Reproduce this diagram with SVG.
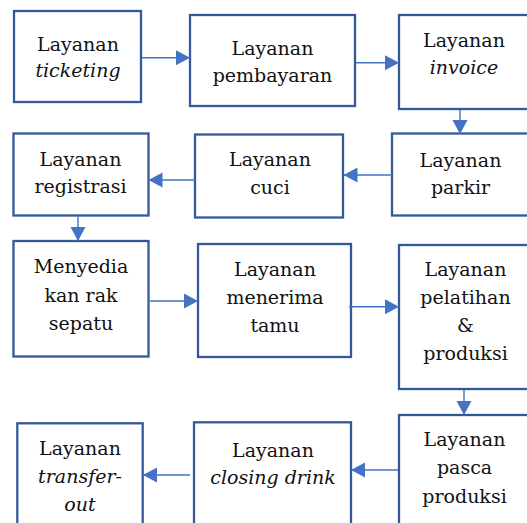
<svg xmlns="http://www.w3.org/2000/svg" width="527" height="523" viewBox="0 0 527 523">
  <style>
    .box { fill: #ffffff; stroke: #34599B; stroke-width: 2.3; }
    .lbl { font-family: "DejaVu Serif", serif; font-size: 19px; fill: #111111; text-anchor: middle; }
    .it { font-style: italic; }
    .conn { stroke: #4472C4; stroke-width: 1.4; fill: none; marker-end: url(#head); }
  </style>
  <defs>
    <marker id="head" markerUnits="userSpaceOnUse" markerWidth="15" markerHeight="16" refX="14" refY="7.5" orient="auto">
      <path d="M0,0 L14,7.5 L0,15 z" fill="#4472C4"/>
    </marker>
  </defs>

  <!-- Row 1 -->
  <g id="ticketing">
    <rect class="box" x="14" y="11" width="127" height="91"/>
    <text class="lbl" x="78" y="51">Layanan</text>
    <text class="lbl it" x="78" y="77">ticketing</text>
  </g>
  <g id="pembayaran">
    <rect class="box" x="190" y="15" width="165" height="91"/>
    <text class="lbl" x="272.5" y="55">Layanan</text>
    <text class="lbl" x="272.5" y="82">pembayaran</text>
  </g>
  <g id="invoice">
    <rect class="box" x="399" y="15" width="131" height="94"/>
    <text class="lbl" x="464" y="47">Layanan</text>
    <text class="lbl it" x="464" y="74">invoice</text>
  </g>

  <!-- Row 2 -->
  <g id="registrasi">
    <rect class="box" x="13.5" y="133.5" width="135" height="82"/>
    <text class="lbl" x="80.5" y="166">Layanan</text>
    <text class="lbl" x="80.5" y="193">registrasi</text>
  </g>
  <g id="cuci">
    <rect class="box" x="195" y="134.5" width="148" height="83"/>
    <text class="lbl" x="270" y="166">Layanan</text>
    <text class="lbl" x="270" y="194">cuci</text>
  </g>
  <g id="parkir">
    <rect class="box" x="392" y="133.5" width="138" height="82"/>
    <text class="lbl" x="460.5" y="166.5">Layanan</text>
    <text class="lbl" x="460.5" y="194">parkir</text>
  </g>

  <!-- Row 3 -->
  <g id="rak-sepatu">
    <rect class="box" x="13.5" y="241" width="135" height="115.5"/>
    <text class="lbl" x="81" y="272.5">Menyedia</text>
    <text class="lbl" x="81" y="301.5">kan rak</text>
    <text class="lbl" x="81" y="330">sepatu</text>
  </g>
  <g id="menerima-tamu">
    <rect class="box" x="198" y="244" width="153" height="113"/>
    <text class="lbl" x="275" y="275.5">Layanan</text>
    <text class="lbl" x="275" y="304">menerima</text>
    <text class="lbl" x="275" y="331.5">tamu</text>
  </g>
  <g id="pelatihan">
    <rect class="box" x="399" y="245" width="131" height="144"/>
    <text class="lbl" x="465.5" y="275.5">Layanan</text>
    <text class="lbl" x="465.5" y="304">pelatihan</text>
    <text class="lbl" x="465.5" y="331.5">&amp;</text>
    <text class="lbl" x="465.5" y="360">produksi</text>
  </g>

  <!-- Row 4 -->
  <g id="transfer-out">
    <rect class="box" x="17.3" y="423.3" width="125.4" height="110"/>
    <text class="lbl" x="80" y="455">Layanan</text>
    <text class="lbl it" x="80" y="482.5">transfer-</text>
    <text class="lbl it" x="80" y="510.5">out</text>
  </g>
  <g id="closing-drink">
    <rect class="box" x="194" y="422.3" width="157" height="110"/>
    <text class="lbl" x="273" y="456.5">Layanan</text>
    <text class="lbl it" x="273" y="484">closing drink</text>
  </g>
  <g id="pasca-produksi">
    <rect class="box" x="399" y="415" width="131" height="120"/>
    <text class="lbl" x="464.5" y="446">Layanan</text>
    <text class="lbl" x="464.5" y="474">pasca</text>
    <text class="lbl" x="464.5" y="502.5">produksi</text>
  </g>

  <!-- Connectors -->
  <g id="connectors">
    <line class="conn" x1="142" y1="57.7" x2="190" y2="57.7"/>
    <line class="conn" x1="356" y1="62.7" x2="399" y2="62.7"/>
    <line class="conn" x1="460" y1="110" x2="460" y2="134"/>
    <line class="conn" x1="392" y1="175" x2="343.5" y2="175"/>
    <line class="conn" x1="195" y1="180" x2="148.5" y2="180"/>
    <line class="conn" x1="78" y1="216.5" x2="78" y2="241"/>
    <line class="conn" x1="149.5" y1="301" x2="198" y2="301"/>
    <line class="conn" x1="349" y1="306.7" x2="399" y2="306.7"/>
    <line class="conn" x1="464" y1="390" x2="464" y2="415"/>
    <line class="conn" x1="398" y1="470" x2="351" y2="470"/>
    <line class="conn" x1="190" y1="475" x2="143" y2="475"/>
  </g>
</svg>
